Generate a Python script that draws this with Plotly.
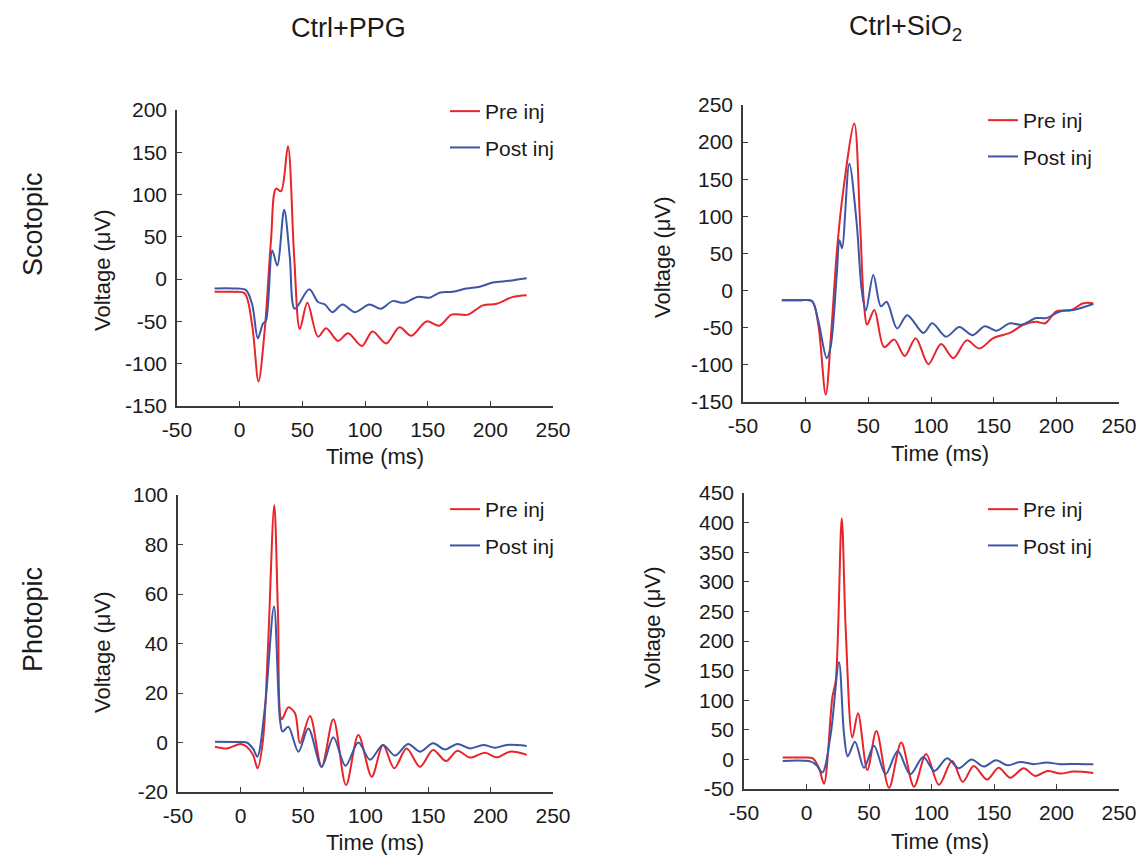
import plotly.graph_objects as go

# ---------------- data ----------------
# Scotopic, Ctrl+PPG
sp_pre_t = [-20, -5, 4, 10, 15, 20, 25, 29, 33, 38.5, 43.5, 48, 54, 62.5, 69, 78.5, 86.5, 97.5, 106, 117,
            127.5, 137, 149, 159.5, 169, 182, 194, 205, 218, 229]
sp_pre_v = [-15, -15, -17, -55, -121, -60, 46, 107, 104, 157, 26, -59, -28, -68, -58, -73, -64, -79, -62, -76,
            -57, -67, -50, -55, -42, -42, -31, -29, -21, -19]
sp_post_t = [-20, -5, 5, 10, 14.5, 18.5, 21, 26, 30, 35.5, 40, 44, 55.5, 62.5, 68, 74, 82, 92, 103.5, 112.5,
             122, 131, 142, 151.5, 159.5, 170, 181, 191.5, 202, 215, 229]
sp_post_v = [-11, -11, -13, -30, -70, -53, -49, 34, 16, 82, 26, -35, -12, -27, -30, -39, -30, -39, -30, -35,
             -26, -28, -21, -22, -16, -15, -11, -9, -4, -2, 1]

# Scotopic, Ctrl+SiO2
ss_pre_t = [-19, -5, 5, 10, 16, 20.5, 25, 30, 38.8, 43.4, 46.5, 49, 54.8, 62.5, 70.7, 79, 87.8, 97.9, 108,
            117.8, 128.5, 138.6, 149.7, 163, 173.7, 184, 191, 200, 212, 221.5, 229.5]
ss_pre_v = [-13, -13, -14, -45, -140, -53, 55, 135, 225, 91, -17, -46, -26, -76, -66, -88, -64, -99, -72,
            -91, -67, -78, -64, -57, -46, -42, -44, -28, -26, -17, -17]
ss_post_t = [-19, -5, 5, 10, 16.8, 20, 24.7, 27, 29, 34.8, 40.7, 44.7, 48, 54, 60, 64.6, 73, 81, 94, 101, 112,
             122.6, 133, 143, 152, 163, 172, 184, 192, 203, 213.6, 229.5]
ss_post_v = [-13, -13, -14, -40, -91, -75, 19, 68, 57, 171, 91, 1, -27, 21, -21, -15, -51, -33, -57, -44, -62,
             -49, -60, -48, -54, -44, -46, -37, -37, -28, -26, -18]

# Photopic, Ctrl+PPG
pp_pre_t = [-20.4, -11, 0, 5, 10, 13.7, 18, 22, 27, 30, 33, 38.3, 43.6, 47.6, 55.6, 64.9, 74.3, 84.4, 94.3,
            105, 114, 123, 132.9, 143.6, 154, 164.4, 173.5, 183.6, 195.6, 205, 215.6, 229]
pp_pre_v = [-1.7, -2.4, -0.6, -1.7, -5, -10.4, 1, 38.7, 96, 52, 9.4, 14.2, 11.8, -0.3, 10.7, -9.8, 9.4, -17.2,
            3, -13.8, -1, -10.4, -2.4, -9.8, -3, -7.5, -3.3, -6.1, -4.1, -6, -3.7, -5]
pp_post_t = [-20.4, 0, 5, 10, 13.5, 19.6, 26.8, 31.6, 33.7, 38.3, 46.3, 54.3, 64.9, 74.3, 84, 94.3, 103.6, 114,
             123.6, 134, 143.6, 154, 163.6, 173.5, 183.6, 194.3, 203.6, 213, 229]
pp_post_v = [0.3, 0.2, 0, -2.5, -5.7, 14.5, 55, 9, 4.4, 6.4, -3.7, 5.7, -9.8, 2.1, -9.4, 0, -7, -1, -5.3,
             -0.6, -3.7, -0.3, -2.8, -0.6, -2.4, -1, -2.1, -1, -1.4]

# Photopic, Ctrl+SiO2
ps_pre_t = [-19, -5, 4.8, 10, 14, 20.7, 23.4, 28.2, 31.4, 36.7, 41.2, 48.7, 55.9, 66, 75.8, 86, 95.7, 105.9,
            116.5, 125, 133.8, 144.4, 153.7, 163, 173.7, 183, 192.8, 203, 213.6, 229.5]
ps_pre_v = [3, 3, 2, -15, -41, 105, 133, 407, 218, 37, 78, -18, 48, -48, 28.5, -46, 9, -43, -2.5, -38, -11,
            -34, -14, -31, -15, -28, -19.5, -24, -20.6, -23]
ps_post_t = [-19, 3.5, 8, 12.8, 19.4, 26, 30, 33, 38.8, 46, 54, 63.3, 73, 83, 93.4, 102.4, 112.5, 121.8, 132,
             141.8, 151.6, 161, 171, 181.6, 192, 203, 216, 229.5]
ps_post_v = [-2.5, -3.7, -10, -22, 43, 164, 43, 5, 30, -14, 23, -25, 14, -25, 4, -19.5, 2, -15, 0, -12, -1.4,
             -10, -4.2, -8, -5.4, -8, -7.6, -8]

x_ticks = [-50, 0, 50, 100, 150, 200, 250]
y_ticks_sp = [-150, -100, -50, 0, 50, 100, 150, 200]
y_ticks_ss = [-150, -100, -50, 0, 50, 100, 150, 200, 250]
y_ticks_pp = [-20, 0, 20, 40, 60, 80, 100]
y_ticks_ps = [-50, 0, 50, 100, 150, 200, 250, 300, 350, 400, 450]

series_names = ["Pre inj", "Post inj"]
col_titles = ["Ctrl+PPG", "Ctrl+SiO<sub>2</sub>"]
row_titles = ["Scotopic", "Photopic"]
x_title = "Time (ms)"
y_title = "Voltage (μV)"

# ---------------- figure ----------------
W, H = 1147, 859
RED = "#E8252B"
BLUE = "#3D56A6"
AX = "#3a3a3a"
TXT = "#1a1a1a"
FONT = "Liberation Sans, Arial, sans-serif"


def px_x(p):
    return p / W


def px_y(p):
    return 1 - p / H


def labels(vals):
    return [str(v) for v in vals]  # plain hyphen-minus like the reference


panels = [
    # (pre_t, pre_v, post_t, post_v, yticks, x0, x1, ytop, ybot)
    (sp_pre_t, sp_pre_v, sp_post_t, sp_post_v, y_ticks_sp, 177, 553, 110, 406),
    (ss_pre_t, ss_pre_v, ss_post_t, ss_post_v, y_ticks_ss, 743, 1119, 105, 402),
    (pp_pre_t, pp_pre_v, pp_post_t, pp_post_v, y_ticks_pp, 178, 553, 495, 792),
    (ps_pre_t, ps_pre_v, ps_post_t, ps_post_v, y_ticks_ps, 744, 1119, 493, 789),
]
legend_pos = [(445, 91), (983, 100), (445, 489), (983, 489)]

fig = go.Figure()
layout = dict(
    template="none",
    width=W, height=H,
    margin=dict(l=0, r=0, t=0, b=0, pad=0, autoexpand=False),
    paper_bgcolor="white", plot_bgcolor="white",
    font=dict(family=FONT, color=TXT, size=20),
    showlegend=True,
    hovermode="closest",
)

for i, (pt, pv, qt, qv, yt, x0, x1, yt_px, yb_px) in enumerate(panels):
    n = i + 1
    xa = "x" if n == 1 else f"x{n}"
    ya = "y" if n == 1 else f"y{n}"
    lg = "legend" if n == 1 else f"legend{n}"
    for name, tt, vv, col in [(series_names[0], pt, pv, RED), (series_names[1], qt, qv, BLUE)]:
        fig.add_trace(go.Scatter(
            x=tt, y=vv, mode="lines", name=name,
            line=dict(color=col, width=2, shape="spline", smoothing=0.9),
            xaxis=xa, yaxis=ya, legend=lg, legendgroup=f"{lg}_{name}",
            showlegend=True,
        ))
    axis_common = dict(
        showline=True, linecolor=AX, linewidth=1.6, ticks="inside", ticklen=5,
        tickwidth=1.4, tickcolor=AX, showgrid=False, zeroline=False, automargin=False,
        tickfont=dict(family=FONT, size=21, color=TXT), ticklabelstandoff=4,
    )
    layout["xaxis" if n == 1 else f"xaxis{n}"] = dict(
        axis_common, domain=[px_x(x0), px_x(x1)], range=[-50, 250],
        tickvals=x_ticks, ticktext=labels(x_ticks), anchor=ya,
    )
    layout["yaxis" if n == 1 else f"yaxis{n}"] = dict(
        axis_common, domain=[px_y(yb_px), px_y(yt_px)], range=[yt[0], yt[-1]],
        tickvals=yt, ticktext=labels(yt), anchor=xa,
    )
    lx, ly = legend_pos[i]
    layout[lg] = dict(
        x=px_x(lx), y=px_y(ly), xanchor="left", yanchor="top",
        bgcolor="rgba(0,0,0,0)", font=dict(family=FONT, size=21, color=TXT),
        tracegroupgap=6, traceorder="grouped",
    )

fig.update_layout(**layout)

ann = []
# column titles
for txt, cx in zip(col_titles, [348, 905]):
    ann.append(dict(text=txt, x=px_x(cx), y=px_y(28), xref="paper", yref="paper",
                    showarrow=False, font=dict(size=27, family=FONT, color=TXT),
                    xanchor="center", yanchor="middle"))
# row titles
for txt, cy in zip(row_titles, [224, 620]):
    ann.append(dict(text=txt, x=px_x(33), y=px_y(cy), xref="paper", yref="paper",
                    showarrow=False, textangle=-90, font=dict(size=27, family=FONT, color=TXT),
                    xanchor="center", yanchor="middle"))
# axis titles
for cx, cy in [(375, 456), (940, 453), (375, 842), (940, 841)]:
    ann.append(dict(text=x_title, x=px_x(cx), y=px_y(cy), xref="paper", yref="paper",
                    showarrow=False, font=dict(size=22, family=FONT, color=TXT),
                    xanchor="center", yanchor="middle"))
for cx, cy in [(103, 270), (662, 257), (102, 652), (652, 627)]:
    ann.append(dict(text=y_title, x=px_x(cx), y=px_y(cy), xref="paper", yref="paper",
                    showarrow=False, textangle=-90, font=dict(size=22, family=FONT, color=TXT),
                    xanchor="center", yanchor="middle"))
fig.update_layout(annotations=ann)

# remove the default 8px page margin so the figure fills the window exactly
fig.write_html("out.html", config={"displayModeBar": False},
               post_script="document.body.style.margin='0';")
